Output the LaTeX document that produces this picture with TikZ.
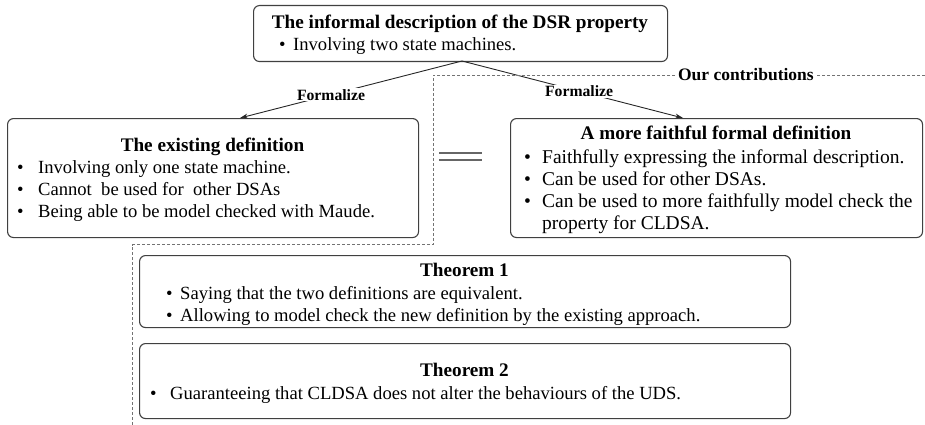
\documentclass[tikz,border=0pt]{standalone}
\usepackage{fontspec}
\setmainfont{Liberation Serif}
\usetikzlibrary{arrows.meta}
\begin{document}
\begin{tikzpicture}[x=1pt,y=-1pt,
  box/.style={draw=black!75, line width=1.1pt, rounded corners=6pt, inner sep=0pt, anchor=north west},
  ttl/.style={font=\fontsize{19.2}{22}\selectfont\bfseries, inner sep=0pt, anchor=base},
  txt/.style={font=\fontsize{18.6}{22}\selectfont, inner sep=0pt, anchor=base west},
  txtb/.style={font=\fontsize{19.5}{22}\selectfont, inner sep=0pt, anchor=base west},
  lbl/.style={font=\fontsize{15.7}{18}\selectfont\bfseries, fill=white, inner xsep=3pt, inner ysep=1pt},
  contrib/.style={font=\fontsize{17.5}{20}\selectfont\bfseries, fill=white, inner xsep=2pt, inner ysep=1pt},
  conn/.style={draw=black!85, line width=0.9pt, -{Stealth[length=8pt,width=5pt]}},
  dashline/.style={draw=black!55, line width=0.9pt, dash pattern=on 3pt off 2pt},
  eqline/.style={draw=black!60, line width=1.3pt}]
\useasboundingbox (0,0) rectangle (925,425);

% boxes
\node[box, minimum width=414pt, minimum height=56pt] (top) at (253,5) {};
\node[box, minimum width=411pt, minimum height=119pt] (exist) at (7,118) {};
\node[box, minimum width=412pt, minimum height=119pt] (faith) at (510,118) {};
\node[box, minimum width=651pt, minimum height=72pt] (thmA) at (139,255) {};
\node[box, minimum width=651pt, minimum height=75pt] (thmB) at (139,343) {};

% top box text
\node[ttl] (topT) at (460,29) {The informal description of the DSR property};
\node[txt] (topL1) at (279,51) {\makebox[14pt][l]{\textbullet}Involving two state machines.};

% existing definition
\node[ttl] (exT) at (212.5,151) {The existing definition};
\node[txt] (exL1) at (17,173) {\makebox[21pt][l]{\textbullet}Involving only one state machine.};
\node[txt] (exL2) at (17,195) {\makebox[21pt][l]{\textbullet}Cannot\ \ be used for\ \ other DSAs};
\node[txt] (exL3) at (17,217) {\makebox[21pt][l]{\textbullet}Being able to be model checked with Maude.};

% faithful definition
\node[ttl] (faT) at (716,139.5) {A more faithful formal definition};
\node[txtb] (faL1) at (524,163.3) {\makebox[18pt][l]{\textbullet}Faithfully expressing the informal description.};
\node[txtb] (faL2) at (524,185.3) {\makebox[18pt][l]{\textbullet}Can be used for other DSAs.};
\node[txtb] (faL3) at (524,207.3) {\makebox[18pt][l]{\textbullet}Can be used to more faithfully model check the};
\node[txtb] (faL4) at (542,229.3) {property for CLDSA.};

% theorem 1
\node[ttl] (t1T) at (464.5,276) {Theorem 1};
\node[txt] (t1L1) at (166,299) {\makebox[14pt][l]{\textbullet}Saying that the two definitions are equivalent.};
\node[txt] (t1L2) at (166,321) {\makebox[14pt][l]{\textbullet}Allowing to model check the new definition by the existing approach.};

% theorem 2
\node[ttl] (t2T) at (464.5,376) {Theorem 2};
\node[txt] (t2L1) at (150,399) {\makebox[20pt][l]{\textbullet}Guaranteeing that CLDSA does not alter the behaviours of the UDS.};

% equal sign
\draw[eqline] (439,153) -- (482,153);
\draw[eqline] (439,160) -- (482,160);

% connectors
\coordinate (apex) at (462,61);
\coordinate (exIn) at (240,118);
\coordinate (faIn) at (683,118);
\draw[conn] (apex) -- node[lbl, pos=0.59] (fL) {Formalize} (exIn);
\draw[conn] (apex) -- node[lbl, pos=0.53] (fR) {Formalize} (faIn);

% contributions frame
\coordinate (d0) at (925,75);
\coordinate (d1) at (433,75);
\coordinate (d2) at (433,244.5);
\coordinate (d3) at (132,244.5);
\coordinate (d4) at (132,425);
\draw[dashline] (d0) -- node[contrib, pos=0.364] (oc) {Our contributions} (d1) -- (d2) -- (d3) -- (d4);
\end{tikzpicture}
\end{document}
